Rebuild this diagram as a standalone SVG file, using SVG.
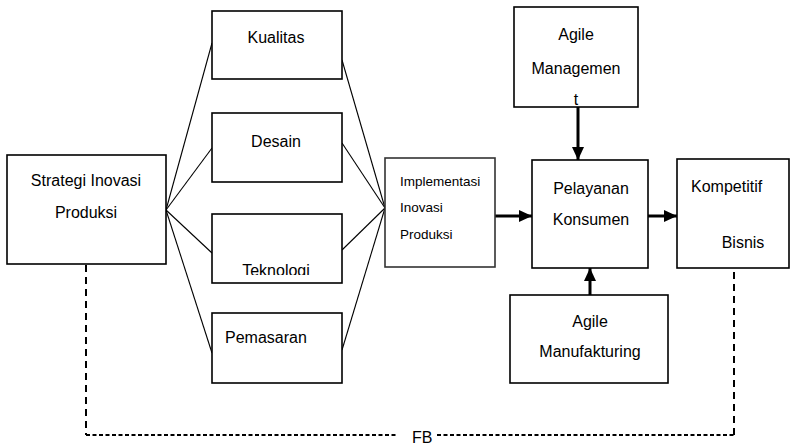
<svg xmlns="http://www.w3.org/2000/svg" width="792" height="446" viewBox="0 0 792 446">
<style>
.box{fill:#fff;stroke:#000;stroke-width:1.6}
.t{font-family:"Liberation Sans",Arial,sans-serif;font-size:16px;fill:#000}
.s{font-family:"Liberation Sans",Arial,sans-serif;font-size:13.5px;fill:#000}
.c{text-anchor:middle}
.thin{stroke:#000;stroke-width:1.1;fill:none}
.arr{stroke:#000;stroke-width:3;fill:none;marker-end:url(#ah)}
.dv{stroke:#000;stroke-width:2;fill:none;stroke-dasharray:7,5}
.dh{stroke:#000;stroke-width:2.2;fill:none;stroke-dasharray:4,2.5}
</style>
<defs>
<marker id="ah" markerUnits="userSpaceOnUse" markerWidth="14" markerHeight="12" refX="13" refY="6" orient="auto">
<path d="M0,0 L13,6 L0,12 Z" fill="#000"/>
</marker>
<clipPath id="tk"><rect x="212" y="214" width="130" height="61"/></clipPath>
</defs>
<rect width="792" height="446" fill="#fff"/>
<g id="connectors">
<line class="thin" x1="166" y1="210" x2="212" y2="43"/>
<line class="thin" x1="166" y1="210" x2="212" y2="148"/>
<line class="thin" x1="166" y1="210" x2="212" y2="253"/>
<line class="thin" x1="166" y1="210" x2="212" y2="353"/>
<line class="thin" x1="342" y1="60" x2="385" y2="208"/>
<line class="thin" x1="342" y1="143" x2="385" y2="208"/>
<line class="thin" x1="342" y1="250" x2="385" y2="208"/>
<line class="thin" x1="342" y1="350" x2="385" y2="208"/>
<line class="arr" x1="495" y1="216" x2="532" y2="216"/>
<line class="arr" x1="648" y1="216" x2="677" y2="216"/>
<line class="arr" x1="578" y1="107" x2="578" y2="160"/>
<line class="arr" x1="590" y1="295" x2="590" y2="268"/>
<path class="dv" d="M86,265 V435"/>
<path class="dh" d="M86,435 H397"/>
<path class="dh" d="M437,435 H734"/>
<path class="dv" d="M734,435 V268"/>
<text class="t" x="412" y="443">FB</text>
</g>
<g id="strategi">
<rect class="box" x="7" y="155" width="159" height="109"/>
<text class="t c" x="86" y="186">Strategi Inovasi</text>
<text class="t c" x="86" y="218">Produksi</text>
</g>
<g id="kualitas">
<rect class="box" x="212" y="11" width="130" height="68"/>
<text class="t c" x="276" y="43">Kualitas</text>
</g>
<g id="desain">
<rect class="box" x="212" y="113" width="130" height="69"/>
<text class="t c" x="276" y="147">Desain</text>
</g>
<g id="teknologi">
<rect class="box" x="212" y="214" width="130" height="69"/>
<text class="t c" x="276" y="276" clip-path="url(#tk)">Teknologi</text>
</g>
<g id="pemasaran">
<rect class="box" x="212" y="313" width="130" height="70"/>
<text class="t" x="225" y="343">Pemasaran</text>
</g>
<g id="implementasi">
<rect class="box" x="385" y="158" width="110" height="109" style="stroke:#333"/>
<text class="s" x="400" y="186">Implementasi</text>
<text class="s" x="400" y="212">Inovasi</text>
<text class="s" x="400" y="239">Produksi</text>
</g>
<g id="agile-management">
<rect class="box" x="514" y="7" width="124" height="100"/>
<text class="t c" x="576" y="40">Agile</text>
<text class="t c" x="576" y="74">Managemen</text>
<text class="t c" x="576" y="105">t</text>
</g>
<g id="pelayanan">
<rect class="box" x="532" y="160" width="116" height="108"/>
<text class="t c" x="591" y="194">Pelayanan</text>
<text class="t c" x="591" y="225">Konsumen</text>
</g>
<g id="kompetitif">
<rect class="box" x="677" y="159" width="112" height="109"/>
<text class="t" x="691" y="192">Kompetitif</text>
<text class="t c" x="743" y="248">Bisnis</text>
</g>
<g id="agile-manufakturing">
<rect class="box" x="510" y="295" width="158" height="88"/>
<text class="t c" x="590" y="327">Agile</text>
<text class="t c" x="590" y="357">Manufakturing</text>
</g>
</svg>
